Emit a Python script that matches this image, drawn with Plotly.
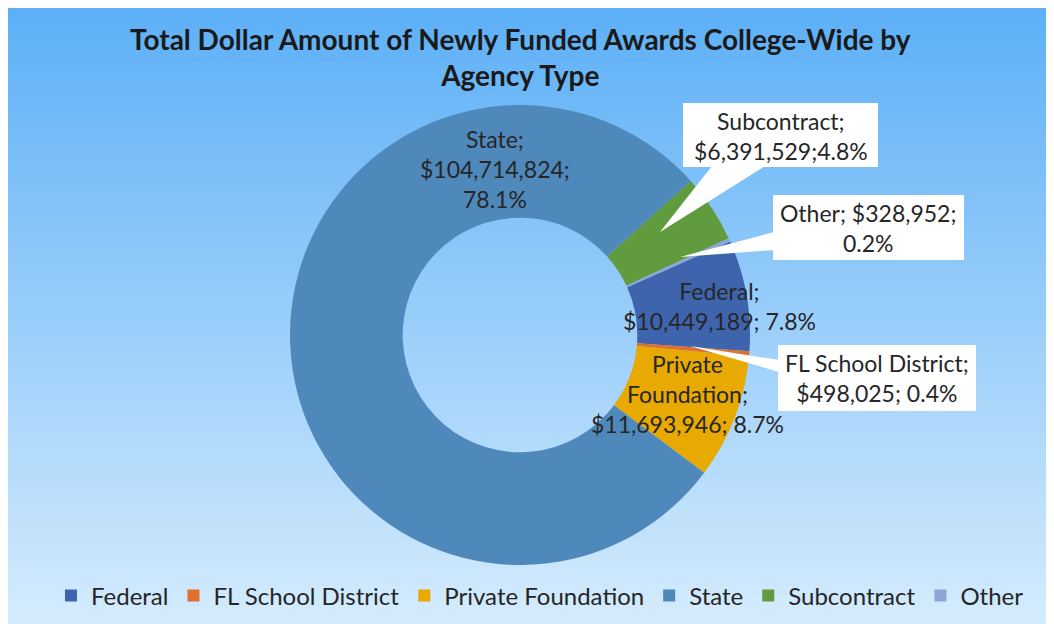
import plotly.graph_objects as go

# data
agencies = ["Federal", "FL School District", "Private Foundation", "State", "Subcontract", "Other"]
amounts = [10449189, 498025, 11693946, 104714824, 6391529, 328952]
colors = ["#3E64AE", "#E07030", "#E8A900", "#4F88BB", "#609B3E", "#8FA5D8"]

# the page body has an 8px margin, so the figure sits at (8, 8) in the window
OFF = 8
W, H = 1054 - OFF, 624 - OFF
FONT = "Lato"
TXT = "#262626"


def px(x, y):
    # window pixel position -> paper coords
    return (x - OFF) / W, 1 - (y - OFF) / H


total = sum(amounts)
pct = {a: v / total * 100 for a, v in zip(agencies, amounts)}
amt = dict(zip(agencies, amounts))

dx0, dy0 = px(290, 565)
dx1, dy1 = px(750, 105)

fig = go.Figure()
fig.add_trace(go.Pie(
    labels=agencies,
    values=amounts,
    sort=False,
    direction="clockwise",
    rotation=66,
    hole=0.51,
    marker=dict(colors=colors, line=dict(width=0)),
    textinfo="none",
    domain=dict(x=[dx0, dx1], y=[dy0, dy1]),
    showlegend=True,
))

# gradient background in stripes
shapes = []
n = 80
top, bot = (93, 176, 247), (212, 235, 253)
ytop, ybot = 8, 624
gx0, _ = px(8, 0)
gx1, _ = px(1051, 0)
for i in range(n):
    t = i / (n - 1)
    c = tuple(round(top[k] + (bot[k] - top[k]) * t) for k in range(3))
    ya = ytop + (ybot - ytop) * i / n
    yb = ytop + (ybot - ytop) * (i + 1) / n + 1
    shapes.append(dict(type="rect", xref="paper", yref="paper", layer="below",
                       x0=gx0, x1=gx1, y0=px(0, yb)[1], y1=px(0, ya)[1],
                       fillcolor="rgb(%d,%d,%d)" % c, line=dict(width=0)))


def callout(box, base, tip):
    # white box plus pointer triangle
    bx0, by0, bx1, by1 = box
    x0, y0 = px(bx0, by1)
    x1, y1 = px(bx1, by0)
    shapes.append(dict(type="rect", xref="paper", yref="paper", layer="above",
                       x0=x0, x1=x1, y0=y0, y1=y1,
                       fillcolor="white", line=dict(width=0)))
    pts = [px(*base[0]), px(*base[1]), px(*tip)]
    path = "M %f,%f L %f,%f L %f,%f Z" % (pts[0] + pts[1] + pts[2])
    shapes.append(dict(type="path", xref="paper", yref="paper", layer="above",
                       path=path, fillcolor="white", line=dict(width=0)))


callout((683, 103, 878, 167), ((712, 166), (765, 166)), (660, 232))
callout((773, 195, 964, 260), ((774, 232), (774, 250)), (680, 257))
callout((778, 345, 976, 411), ((779, 360), (779, 372)), (690, 346))


def money(v):
    return "${:,.0f}".format(v)


labels = [
    ("State;<br>%s;<br>%.1f%%" % (money(amt["State"]), pct["State"]), 495, 169),
    ("Federal;<br>%s; %.1f%%" % (money(amt["Federal"]), pct["Federal"]), 719, 306),
    ("Private<br>Foundation;<br>%s; %.1f%%" % (money(amt["Private Foundation"]), pct["Private Foundation"]), 687, 394),
    ("Subcontract;<br>%s;%.1f%%" % (money(amt["Subcontract"]), pct["Subcontract"]), 781, 136),
    ("Other; %s;<br>%.1f%%" % (money(amt["Other"]), pct["Other"]), 868, 228),
    ("FL School District;<br>%s; %.1f%%" % (money(amt["FL School District"]), pct["FL School District"]), 877, 378),
]
annotations = []
for text, x, y in labels:
    xp, yp = px(x, y)
    annotations.append(dict(text=text, x=xp, y=yp, xref="paper", yref="paper",
                            showarrow=False, xanchor="center", yanchor="middle",
                            font=dict(family=FONT, size=23, color=TXT)))

tx, ty = px(520, 57)
annotations.append(dict(text="<b>Total Dollar Amount of Newly Funded Awards College-Wide by<br>Agency Type</b>",
                        x=tx, y=ty, xref="paper", yref="paper", showarrow=False,
                        xanchor="center", yanchor="middle",
                        font=dict(family=FONT, size=28, color="#1a1a1a")))

lx, ly = px(540, 596)
fig.update_layout(
    width=W, height=H,
    margin=dict(l=0, r=0, t=0, b=0, autoexpand=False),
    paper_bgcolor="white",
    shapes=shapes,
    annotations=annotations,
    legend=dict(orientation="h", x=lx, xanchor="center", y=ly, yanchor="middle",
                font=dict(family=FONT, size=24, color=TXT), bgcolor="rgba(0,0,0,0)",
                traceorder="normal"),
)

fig.write_html("out.html")
